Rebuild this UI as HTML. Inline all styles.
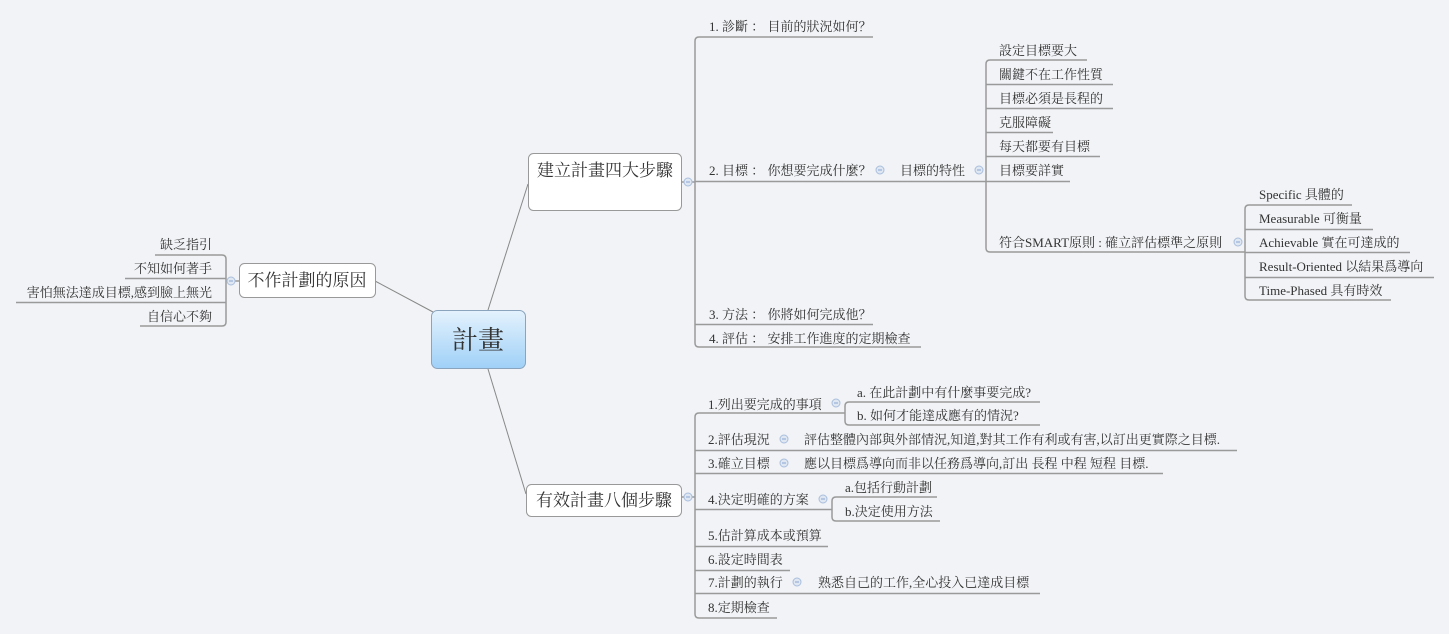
<!DOCTYPE html>
<html><head><meta charset="utf-8"><style>
html,body{margin:0;padding:0;background:#f1f3f6;}
svg{display:block;}
text{font-family:"Liberation Serif","Noto Serif CJK SC","Noto Sans CJK TC",serif;fill:#333;font-size:13px;}
.u{stroke:#9a9a9a;stroke-width:1.5;fill:none;}
.c{fill:#dfe7f3;stroke:#a9bedc;stroke-width:1;}
.m{stroke:#8aa6d0;stroke-width:1;}
</style></head><body>
<svg width="1449" height="634" viewBox="0 0 1449 634" xmlns="http://www.w3.org/2000/svg">
<defs>
<linearGradient id="g" x1="0" y1="0" x2="0" y2="1"><stop offset="0" stop-color="#e4f2fd"/><stop offset="1" stop-color="#9fd0f7"/></linearGradient>
</defs>
<!-- main connectors -->
<g stroke="#888" stroke-width="1" fill="none">
<line x1="433" y1="312" x2="375" y2="281"/>
<line x1="488" y1="310" x2="528" y2="184"/>
<line x1="488" y1="369" x2="526" y2="494"/>
</g>
<!-- central -->
<rect x="431.5" y="310.5" width="94" height="58" rx="6" fill="url(#g)" stroke="#8aa4bd"/>
<text x="478" y="349" text-anchor="middle" style="font-size:26px">計畫</text>
<!-- left box -->
<rect x="239.5" y="263.5" width="136" height="34" rx="5" fill="#fff" stroke="#999"/>
<text x="307" y="286" text-anchor="middle" style="font-size:17px">不作計劃的原因</text>
<!-- top box -->
<rect x="528.5" y="153.5" width="153" height="57" rx="5" fill="#fff" stroke="#999"/>
<text x="605" y="176" text-anchor="middle" style="font-size:17px">建立計畫四大步驟</text>
<!-- bottom box -->
<rect x="526.5" y="484.5" width="155" height="32" rx="5" fill="#fff" stroke="#999"/>
<text x="604" y="506" text-anchor="middle" style="font-size:17px">有效計畫八個步驟</text>

<!-- left children -->
<path class="u" d="M155 255 H222 Q226 255 226 259 V322 Q226 326 222 326 H140"/>
<line class="u" x1="125" y1="278.5" x2="226" y2="278.5"/>
<line class="u" x1="16" y1="302.5" x2="226" y2="302.5"/>
<line class="u" x1="226" y1="281" x2="239" y2="281"/>
<circle class="c" cx="231" cy="281" r="4"/><line class="m" x1="229" y1="281" x2="233" y2="281"/>
<g text-anchor="end">
<text x="212" y="249">缺乏指引</text>
<text x="212" y="273">不知如何著手</text>
<text x="212" y="297">害怕無法達成目標,感到臉上無光</text>
<text x="212" y="321">自信心不夠</text>
</g>

<!-- top group -->
<path class="u" d="M873 37 H699 Q695 37 695 41 V343 Q695 347 699 347 H921"/>
<line class="u" x1="682" y1="182" x2="695" y2="182"/>
<line class="u" x1="695" y1="181.5" x2="986" y2="181.5"/>
<line class="u" x1="695" y1="324.5" x2="873" y2="324.5"/>
<circle class="c" cx="688" cy="182" r="4"/><line class="m" x1="686" y1="182" x2="690" y2="182"/>
<text x="709" y="31">1. 診斷 ： 目前的狀況如何？</text>
<text x="709" y="175">2. 目標 ： 你想要完成什麼？</text>
<circle class="c" cx="880" cy="170" r="4"/><line class="m" x1="878" y1="170" x2="882" y2="170"/>
<text x="900" y="175">目標的特性</text>
<circle class="c" cx="979" cy="170" r="4"/><line class="m" x1="977" y1="170" x2="981" y2="170"/>
<text x="709" y="319">3. 方法 ： 你將如何完成他？</text>
<text x="709" y="343">4. 評估 ： 安排工作進度的定期檢查</text>

<!-- characteristics -->
<path class="u" d="M1087 60 H990 Q986 60 986 64 V248 Q986 252 990 252 H1245"/>
<line class="u" x1="986" y1="84.5" x2="1113" y2="84.5"/>
<line class="u" x1="986" y1="108.5" x2="1113" y2="108.5"/>
<line class="u" x1="986" y1="132.5" x2="1053" y2="132.5"/>
<line class="u" x1="986" y1="156.5" x2="1100" y2="156.5"/>
<line class="u" x1="986" y1="181.5" x2="1070" y2="181.5"/>
<text x="999" y="55">設定目標要大</text>
<text x="999" y="79">關鍵不在工作性質</text>
<text x="999" y="103">目標必須是長程的</text>
<text x="999" y="127">克服障礙</text>
<text x="999" y="151">每天都要有目標</text>
<text x="999" y="175">目標要詳實</text>
<text x="999" y="247">符合SMART原則 : 確立評估標準之原則</text>
<circle class="c" cx="1238" cy="242" r="4"/><line class="m" x1="1236" y1="242" x2="1240" y2="242"/>

<!-- SMART -->
<path class="u" d="M1352 205 H1249 Q1245 205 1245 209 V296 Q1245 300 1249 300 H1391"/>
<line class="u" x1="1245" y1="229.5" x2="1373" y2="229.5"/>
<line class="u" x1="1245" y1="252.5" x2="1410" y2="252.5"/>
<line class="u" x1="1245" y1="277.5" x2="1434" y2="277.5"/>
<text x="1259" y="199">Specific  具體的</text>
<text x="1259" y="223">Measurable  可衡量</text>
<text x="1259" y="247">Achievable  實在可達成的</text>
<text x="1259" y="271">Result-Oriented  以結果爲導向</text>
<text x="1259" y="295">Time-Phased  具有時效</text>

<!-- bottom group -->
<path class="u" d="M845 413 H699 Q695 413 695 417 V614 Q695 618 699 618 H777"/>
<line class="u" x1="682" y1="497" x2="695" y2="497"/>
<line class="u" x1="695" y1="450.5" x2="1237" y2="450.5"/>
<line class="u" x1="695" y1="473.5" x2="1163" y2="473.5"/>
<line class="u" x1="695" y1="509.5" x2="832" y2="509.5"/>
<line class="u" x1="695" y1="546.5" x2="828" y2="546.5"/>
<line class="u" x1="695" y1="570.5" x2="790" y2="570.5"/>
<line class="u" x1="695" y1="593.5" x2="1040" y2="593.5"/>
<circle class="c" cx="688" cy="497" r="4"/><line class="m" x1="686" y1="497" x2="690" y2="497"/>
<text x="708" y="409">1.列出要完成的事項</text>
<circle class="c" cx="836" cy="403" r="4"/><line class="m" x1="834" y1="403" x2="838" y2="403"/>
<path class="u" d="M1040 402 H849 Q845 402 845 406 V421 Q845 425 849 425 H1040"/>
<text x="857" y="397">a. 在此計劃中有什麼事要完成?</text>
<text x="857" y="420">b. 如何才能達成應有的情況?</text>
<text x="708" y="444">2.評估現況</text>
<circle class="c" cx="784" cy="439" r="4"/><line class="m" x1="782" y1="439" x2="786" y2="439"/>
<text x="804" y="444">評估整體內部與外部情況,知道,對其工作有利或有害,以訂出更實際之目標.</text>
<text x="708" y="468">3.確立目標</text>
<circle class="c" cx="784" cy="463" r="4"/><line class="m" x1="782" y1="463" x2="786" y2="463"/>
<text x="804" y="468">應以目標爲導向而非以任務爲導向,訂出 長程 中程 短程 目標.</text>
<text x="708" y="504">4.決定明確的方案</text>
<circle class="c" cx="823" cy="499" r="4"/><line class="m" x1="821" y1="499" x2="825" y2="499"/>
<path class="u" d="M937 497 H836 Q832 497 832 501 V517 Q832 521 836 521 H940"/>
<text x="845" y="492">a.包括行動計劃</text>
<text x="845" y="516">b.決定使用方法</text>
<text x="708" y="540">5.估計算成本或預算</text>
<text x="708" y="564">6.設定時間表</text>
<text x="708" y="587">7.計劃的執行</text>
<circle class="c" cx="797" cy="582" r="4"/><line class="m" x1="795" y1="582" x2="799" y2="582"/>
<text x="818" y="587">熟悉自己的工作,全心投入已達成目標</text>
<text x="708" y="612">8.定期檢查</text>
</svg>
</body></html>
